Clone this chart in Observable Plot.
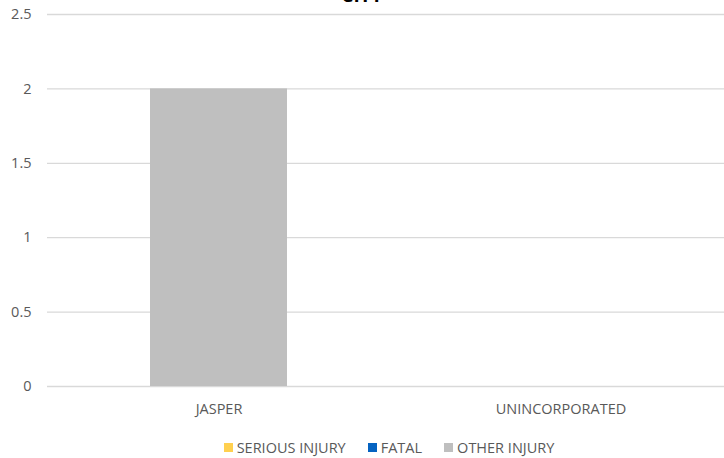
<!DOCTYPE html>
<html>
<head>
<meta charset="utf-8">
<script src="https://cdn.jsdelivr.net/npm/d3@7"></script>
<script src="https://cdn.jsdelivr.net/npm/@observablehq/plot@0.6"></script>
<style>
  html, body { margin: 0; padding: 0; background: #fff; overflow: hidden; width: 724px; height: 458px; }
  #wrap { position: relative; width: 724px; height: 458px; font-family: "Open Sans", sans-serif; }
  #title { position: absolute; top: -18px; left: 0; width: 724px; text-align: center; font-size: 19px; font-weight: bold; color: #000; }
  #chart { position: absolute; top: 0; left: 0; }
  #legend { position: absolute; top: 438px; left: 0; width: 778px; display: flex; justify-content: center; gap: 22px; font-size: 14.5px; color: #595959; }
  #legend .item { display: flex; align-items: center; }
  #legend .sw { width: 9px; height: 9px; margin-right: 4px; display: inline-block; }
</style>
</head>
<body>
<div id="wrap">
  <div id="title">CITY</div>
  <div id="chart"></div>
  <div id="legend"></div>
</div>
<script>
const categories = ["JASPER", "UNINCORPORATED"];
const seriesNames = ["SERIOUS INJURY", "FATAL", "OTHER INJURY"];
const seriousInjury = [0, 0];
const fatal = [0, 0];
const otherInjury = [2, 0];
const seriesColors = ["#FFD04F", "#0563C1", "#BFBFBF"];
const yTicks = [0, 0.5, 1, 1.5, 2, 2.5];

const seriesValues = [seriousInjury, fatal, otherInjury];
const data = [];
seriesNames.forEach((s, si) => {
  categories.forEach((c, ci) => {
    data.push({city: c, series: s, value: seriesValues[si][ci]});
  });
});

const chart = Plot.plot({
  width: 724,
  height: 430,
  marginTop: 14,
  marginBottom: 44,
  marginLeft: 47,
  marginRight: -7,
  style: { fontFamily: "Open Sans, sans-serif", fontSize: "14.5px", color: "#595959", background: "transparent", overflow: "visible" },
  x: { domain: categories, paddingInner: 0.6, paddingOuter: 0.3, label: null, tickSize: 0, tickPadding: 17 },
  y: { domain: [0, 2.5], ticks: yTicks, tickFormat: d => String(d), label: null, tickSize: 0, tickPadding: 16 },
  color: { domain: seriesNames, range: seriesColors },
  marks: [
    Plot.ruleY(yTicks, { stroke: "#D9D9D9", strokeWidth: 1.3 }),
    Plot.barY(data, { x: "city", y: "value", fill: "series", order: seriesNames }),
    Plot.axisX({ tickSize: 0, tickPadding: 17, fill: "#595959", fontSize: 14.5 }),
    Plot.axisY({ ticks: yTicks, tickFormat: d => String(d), tickSize: 0, tickPadding: 16, fill: "#595959", fontSize: 14.5 })
  ]
});
document.getElementById("chart").appendChild(chart);

const legend = document.getElementById("legend");
seriesNames.forEach((s, i) => {
  const it = document.createElement("div");
  it.className = "item";
  const sw = document.createElement("span");
  sw.className = "sw";
  sw.style.background = seriesColors[i];
  it.appendChild(sw);
  it.appendChild(document.createTextNode(s));
  legend.appendChild(it);
});
</script>
</body>
</html>
